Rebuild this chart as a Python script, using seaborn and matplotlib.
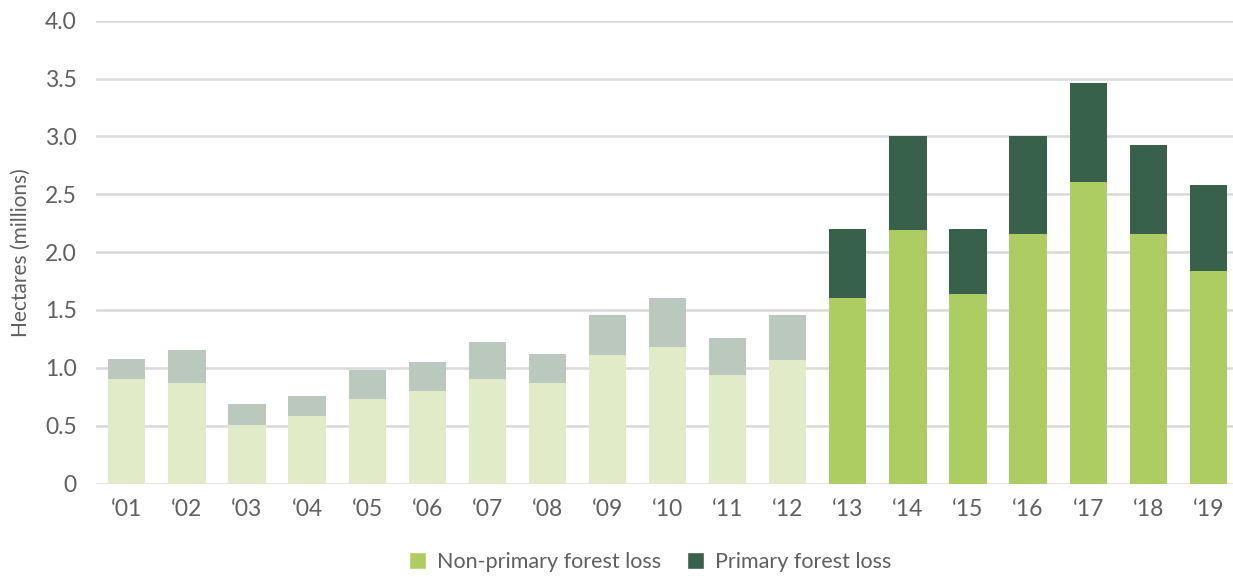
import numpy as np
import pandas as pd
import matplotlib.pyplot as plt
import seaborn as sns
from matplotlib.patches import Patch
from matplotlib.ticker import FuncFormatter

# data (millions of hectares)
years = ['‘01', '‘02', '‘03', '‘04', '‘05', '‘06', '‘07', '‘08', '‘09', '‘10',
         '‘11', '‘12', '‘13', '‘14', '‘15', '‘16', '‘17', '‘18', '‘19']
non_primary = [0.90, 0.87, 0.51, 0.58, 0.73, 0.80, 0.90, 0.87, 1.11, 1.18,
               0.94, 1.07, 1.60, 2.19, 1.64, 2.16, 2.61, 2.16, 1.84]
primary = [0.18, 0.28, 0.18, 0.18, 0.25, 0.25, 0.32, 0.25, 0.35, 0.42,
           0.32, 0.39, 0.60, 0.81, 0.56, 0.84, 0.85, 0.77, 0.74]

# colours: faded for 2001-2012, full for 2013-2019
light_np, light_p = '#e1ebc8', '#bac8be'
np_col, p_col = '#adcd62', '#37614b'
n_faded = 12

df = pd.DataFrame({'year': years, 'non_primary': non_primary, 'primary': primary})
df['total'] = df['non_primary'] + df['primary']

pal_total = [light_p] * n_faded + [p_col] * (len(years) - n_faded)
pal_np = [light_np] * n_faded + [np_col] * (len(years) - n_faded)

sns.set_style('white')
plt.rcParams['font.family'] = ['Lato', 'DejaVu Sans']
text_col = '#5f5f5f'

fig = plt.figure(figsize=(12.33, 5.77), dpi=100)
ax = fig.add_axes([0.078, 0.162, 0.922, 0.802])

bar_w = 0.62
sns.barplot(data=df, x='year', y='total', hue='year', palette=pal_total,
            width=bar_w, dodge=False, legend=False, saturation=1, linewidth=0,
            ax=ax, zorder=2)
sns.barplot(data=df, x='year', y='non_primary', hue='year', palette=pal_np,
            width=bar_w, dodge=False, legend=False, saturation=1, linewidth=0,
            ax=ax, zorder=3)

ax.set_ylim(0, 4.0)
ax.set_xlim(-0.51, len(years) - 1 + 0.41)
ax.set_yticks(np.arange(0, 4.01, 0.5))
ax.yaxis.set_major_formatter(FuncFormatter(lambda v, p: '0' if v == 0 else f'{v:.1f}'))
ax.grid(axis='y', color='#d9d9d9', linewidth=1.8, zorder=0)
ax.set_axisbelow(True)
for s in ax.spines.values():
    s.set_visible(False)

ax.tick_params(axis='both', length=0, labelsize=16.5, colors=text_col)
ax.tick_params(axis='x', pad=11)
ax.tick_params(axis='y', pad=14)
ax.set_xlabel('')
ax.set_ylabel('Hectares (millions)', fontsize=15, color=text_col, labelpad=10)

handles = [Patch(facecolor=np_col, label='Non-primary forest loss'),
           Patch(facecolor=p_col, label='Primary forest loss')]
leg = fig.legend(handles=handles, loc='center', bbox_to_anchor=(650 / 1233, 1 - 562 / 577),
                 ncol=2, frameon=False, fontsize=15.5, handlelength=0.8, handleheight=0.8,
                 handletextpad=0.5, columnspacing=1.2)
for t in leg.get_texts():
    t.set_color(text_col)

fig.savefig('out.png', dpi=100)
